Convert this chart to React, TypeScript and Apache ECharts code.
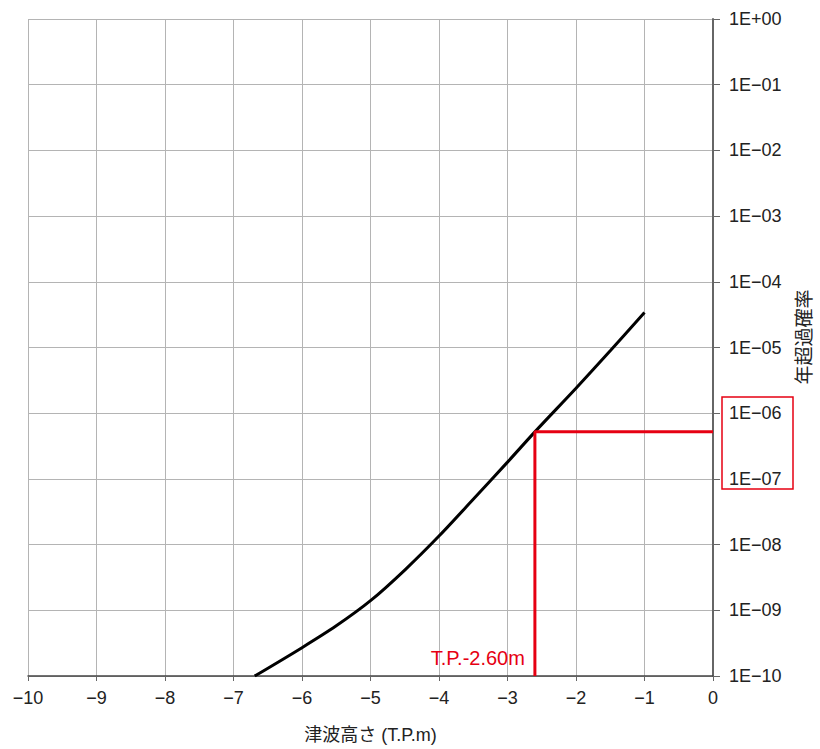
import React, { useEffect, useRef } from 'react';
import * as echarts from 'echarts';

// Tsunami height (T.P. m) and annual exceedance probability
const heights = [-6.69, -6.0, -5.5, -5.0, -4.5, -4.0, -3.5, -3.0, -2.6, -2.0, -1.5, -1.0];
const probabilities = [1.0e-10, 2.7e-10, 5.8e-10, 1.4e-9, 4.1e-9, 1.35e-8, 4.9e-8, 1.8e-7, 5.2e-7, 2.4e-6, 8.9e-6, 3.4e-5];

// Marker for the design height
const markHeight = -2.6;
const markProbability = 5.2e-7;
const markLabel = 'T.P.-2.60m';

const xName = '津波高さ (T.P.m)';
const yName = '年超過確率';

const xMin = -10;
const xMax = 0;
const yMin = 1e-10;
const yMax = 1;

const FONT = '"Liberation Sans", "Noto Sans CJK JP", sans-serif';
const RED = '#e60012';

export default function App() {
  const ref = useRef<HTMLDivElement>(null);

  useEffect(() => {
    if (!ref.current) return;
    const chart = echarts.init(ref.current, undefined, { renderer: 'svg' });

    const curve = heights.map((h, i) => [h, probabilities[i]]);
    const marker = [
      [markHeight, yMin],
      [markHeight, markProbability],
      [xMax, markProbability],
    ];

    const option: any = {
      animation: false,
      backgroundColor: '#ffffff',
      grid: { left: 28, right: 107, top: 19, bottom: 72, containLabel: false },
      xAxis: {
        type: 'value',
        min: xMin,
        max: xMax,
        interval: 1,
        name: xName,
        nameLocation: 'middle',
        nameGap: 50,
        nameTextStyle: { fontFamily: FONT, fontSize: 18, color: '#222' },
        axisLine: { onZero: false, lineStyle: { color: '#444', width: 1.5 } },
        axisTick: { show: true, length: 5, lineStyle: { color: '#666' } },
        axisLabel: {
          margin: 13,
          fontFamily: FONT,
          fontSize: 18,
          color: '#222',
          formatter: (v: number) => String(v).replace('-', '−'),
        },
        splitLine: { show: true, lineStyle: { color: '#b4b4b4', width: 1 } },
      },
      yAxis: {
        type: 'log',
        logBase: 10,
        min: yMin,
        max: yMax,
        interval: 1,
        position: 'right',
        axisLine: { show: true, lineStyle: { color: '#666', width: 2 } },
        axisTick: { show: true, length: 7, lineStyle: { color: '#666' } },
        axisLabel: {
          margin: 16,
          fontFamily: FONT,
          fontSize: 18,
          color: '#222',
          formatter: (v: number) => {
            const e = Math.round(Math.log10(v));
            return '1E' + (e >= 0 ? '+' : '−') + String(Math.abs(e)).padStart(2, '0');
          },
        },
        splitLine: { show: true, lineStyle: { color: '#b4b4b4', width: 1 } },
      },
      series: [
        {
          type: 'line',
          data: curve,
          smooth: 0.3,
          showSymbol: false,
          symbol: 'none',
          lineStyle: { color: '#000', width: 3 },
          z: 3,
        },
        {
          type: 'line',
          data: marker,
          showSymbol: false,
          symbol: 'none',
          lineStyle: { color: RED, width: 3 },
          z: 4,
        },
      ],
    };
    chart.setOption(option);

    const p = chart.convertToPixel({ gridIndex: 0 }, [markHeight, yMin]) as number[];
    chart.setOption({
      graphic: [
        {
          type: 'text',
          x: p[0] - 10,
          y: p[1] - 8,
          style: {
            text: markLabel,
            fill: RED,
            font: `20px ${FONT}`,
            textAlign: 'right',
            textVerticalAlign: 'bottom',
          },
          z: 10,
        },
        {
          type: 'rect',
          shape: { x: 722, y: 397, width: 71, height: 92 },
          style: { fill: 'none', stroke: RED, lineWidth: 1.5 },
          z: 10,
        },
        {
          type: 'text',
          x: 804,
          y: 337,
          rotation: Math.PI / 2,
          style: {
            text: yName,
            fill: '#222',
            font: `19px ${FONT}`,
            textAlign: 'center',
            textVerticalAlign: 'middle',
          },
          z: 10,
        },
      ],
    });

    return () => chart.dispose();
  }, []);

  return (
    <div
      ref={ref}
      style={{ position: 'absolute', left: 0, top: 0, width: 820, height: 749 }}
    />
  );
}
